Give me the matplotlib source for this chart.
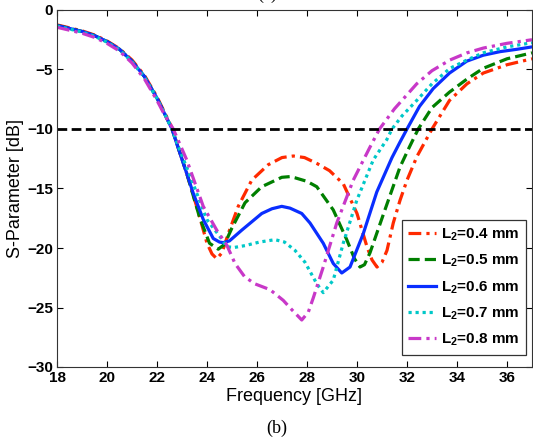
import numpy as np
import matplotlib
matplotlib.use('Agg')
import matplotlib.pyplot as plt

plt.rcParams.update({'font.family': 'Liberation Sans', 'font.size': 11,
                     'mathtext.fontset': 'custom',
                     'mathtext.rm': 'Liberation Sans:bold',
                     'mathtext.bf': 'Liberation Sans:bold'})

# frequency [GHz] / S11 [dB]
f_04 = [18, 18.5, 19, 19.5, 20, 20.5, 21, 21.5, 22, 22.3, 22.6, 22.9, 23.2, 23.6, 24.0, 24.2,
        24.39, 24.6, 24.85, 25.25, 25.79, 26.45, 27.0, 27.45, 27.9, 28.4, 28.9, 29.45, 30.0,
        30.4, 30.6, 30.8, 31.0, 31.2, 31.45, 31.72, 32.0, 32.4, 33.0, 33.7, 34.4, 35.05, 36.0, 37.0]
s_04 = [-1.25, -1.5, -1.75, -2.1, -2.6, -3.25, -4.2, -5.5, -7.3, -8.6, -9.9, -11.9, -13.8, -16.6,
        -19.6, -20.5, -20.9, -20.4, -18.8, -16.5, -14.3, -13.0, -12.4, -12.27, -12.4, -12.9, -13.5,
        -14.6, -17.1, -19.9, -21.0, -21.6, -21.2, -20.2, -17.9, -16.0, -14.3, -12.3, -10.0, -7.6,
        -6.2, -5.3, -4.6, -4.1]

f_05 = [18, 18.5, 19, 19.5, 20, 20.5, 21, 21.5, 22, 22.3, 22.6, 22.9, 23.2, 23.7, 24.1, 24.45,
        24.7, 24.99, 25.52, 26.19, 26.99, 27.32, 27.52, 28.0, 28.39, 29.05, 29.59, 29.9, 30.12,
        30.3, 30.52, 31.05, 31.72, 32.1, 32.45, 33.0, 33.7, 34.4, 35.05, 36.0, 37.0]
s_05 = [-1.3, -1.55, -1.8, -2.15, -2.65, -3.3, -4.3, -5.6, -7.4, -8.7, -10.0, -11.9, -13.8, -17.4,
        -19.6, -20.1, -19.7, -18.35, -16.2, -14.85, -14.06, -14.0, -14.1, -14.4, -14.85, -16.8,
        -19.3, -20.9, -21.6, -21.4, -20.4, -17.2, -13.2, -11.5, -10.0, -8.2, -6.9, -5.8, -4.9,
        -4.1, -3.6]

f_06 = [18, 18.5, 19, 19.5, 20, 20.5, 21, 21.5, 22, 22.3, 22.6, 22.92, 23.2, 23.45, 23.85, 24.25,
        24.5, 24.65, 24.9, 25.39, 26.19, 26.6, 26.99, 27.32, 27.79, 28.12, 28.65, 29.05, 29.39,
        29.72, 30.25, 30.79, 31.4, 31.72, 32.0, 32.5, 33.05, 33.7, 34.39, 35.05, 35.72, 36.4, 37.0]
s_06 = [-1.3, -1.55, -1.8, -2.15, -2.65, -3.3, -4.3, -5.6, -7.4, -8.7, -10.0, -12.05, -13.8,
        -15.4, -17.6, -19.2, -19.5, -19.55, -19.4, -18.5, -17.1, -16.7, -16.5, -16.65, -17.1,
        -17.9, -19.6, -21.3, -22.1, -21.6, -18.8, -15.3, -12.4, -11.1, -10.0, -8.1, -6.6, -5.3,
        -4.3, -3.8, -3.5, -3.3, -3.1]

f_07 = [18, 18.5, 19, 19.5, 20, 20.5, 21, 21.5, 22, 22.3, 22.6, 22.95, 23.3, 23.99, 24.52, 24.79,
        25.1, 25.52, 26.1, 26.72, 27.1, 27.52, 27.92, 28.39, 28.65, 29.05, 29.45, 29.99, 30.65,
        31.19, 31.4, 31.8, 32.39, 33.0, 33.72, 34.4, 35.05, 36.0, 37.0]
s_07 = [-1.35, -1.6, -1.85, -2.2, -2.7, -3.35, -4.35, -5.65, -7.45, -8.7, -10.0, -12.0, -13.8,
        -17.6, -19.05, -19.9, -19.95, -19.8, -19.5, -19.3, -19.5, -20.2, -21.2, -23.0, -23.75,
        -22.7, -19.6, -16.0, -12.6, -10.9, -10.0, -8.9, -7.6, -6.2, -4.9, -4.2, -3.6, -3.1, -2.75]

f_08 = [18, 18.5, 19, 19.5, 20, 20.5, 21, 21.5, 22, 22.3, 22.65, 23.19, 23.85, 24.39, 24.79,
        25.12, 25.5, 25.9, 26.52, 27.05, 27.4, 27.79, 28.05, 28.25, 28.65, 29.19, 29.85, 30.5,
        30.9, 31.5, 32.39, 33.0, 33.72, 34.4, 35.05, 36.0, 37.0]
s_08 = [-1.45, -1.7, -1.95, -2.3, -2.8, -3.45, -4.45, -5.8, -7.6, -8.8, -10.0, -12.6, -16.5,
        -18.5, -19.75, -21.3, -22.4, -23.0, -23.5, -24.4, -25.2, -26.05, -25.4, -24.2, -21.6,
        -17.9, -14.3, -11.6, -10.0, -8.3, -6.2, -5.1, -4.2, -3.6, -3.2, -2.8, -2.5]

labels = ['L$_2$=0.4 mm', 'L$_2$=0.5 mm', 'L$_2$=0.6 mm', 'L$_2$=0.7 mm', 'L$_2$=0.8 mm']
colors = ['#FF2A00', '#007F00', '#0A2EFF', '#00C8C8', '#C838C8']
styles = [(0, (4, 1.6, 1, 1.6)), (0, (3.5, 1.6)), '-', (0, (1, 1.2)), (0, (4, 1.6, 1, 1.6))]
curves = [(f_04, s_04), (f_05, s_05), (f_06, s_06), (f_07, s_07), (f_08, s_08)]

fig = plt.figure(figsize=(5.33, 4.37), dpi=100)
ax = fig.add_axes([57/533, 1-367/437, 475/533, 357/437])

for (f, s), c, ls, lab in zip(curves, colors, styles, labels):
    ax.plot(f, s, color=c, ls=ls, lw=2.3, label=lab)
ax.axhline(-10, color='black', ls=(0, (3.5, 1.6)), lw=2.0)

ax.set_xlim(18, 37)
ax.set_ylim(-30, 0)
ax.set_xticks(np.arange(18, 37, 2))
ax.set_yticks(np.arange(-30, 1, 5))
ax.tick_params(direction='in', length=4, width=0.8, top=True, right=True, pad=3,
               labelsize=11)
for t in ax.get_xticklabels() + ax.get_yticklabels():
    t.set_fontweight('bold')
for sp in ax.spines.values():
    sp.set_linewidth(0.8)
    sp.set_color('#333333')

ax.set_xlabel('Frequency [GHz]', fontsize=13, labelpad=2)
ax.set_ylabel('S-Parameter [dB]', fontsize=13, labelpad=2)

leg = ax.legend(loc='lower right', bbox_to_anchor=(0.987, 0.034), borderaxespad=0,
                fancybox=False, framealpha=1, edgecolor='#333333',
                prop={'weight': 'bold', 'size': 11}, handlelength=1.8,
                handletextpad=0.3, labelspacing=0.62, borderpad=0.45)
leg.get_frame().set_linewidth(0.9)

fig.text(277/533, 1-428/437, '(b)', family='Liberation Serif', fontsize=13,
         ha='center', va='center')
# caption of the panel above, cut off at the top edge as in the source image
fig.text(267/533, 1+1/437, '(a)', family='Liberation Serif', fontsize=13,
         ha='center', va='baseline')

plt.savefig('out.png', dpi=100)
